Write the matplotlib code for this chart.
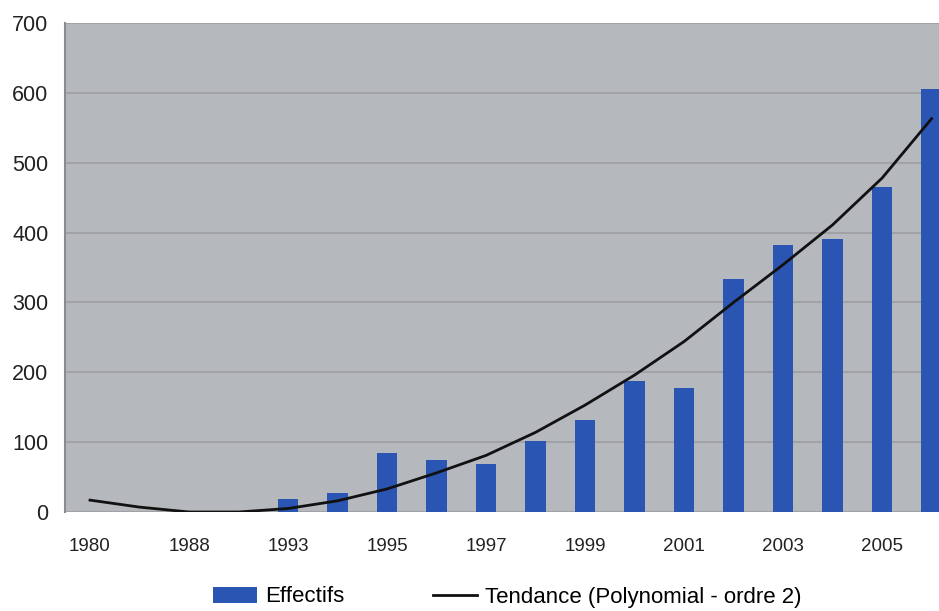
import numpy as np
import matplotlib
matplotlib.use("Agg")
import matplotlib.pyplot as plt

plt.rcParams['font.family'] = ['Liberation Sans', 'DejaVu Sans']

# categories (only every other one gets a label)
years = ['1980', '1985', '1988', '1990', '1993', '1994', '1995', '1996', '1997',
         '1998', '1999', '2000', '2001', '2002', '2003', '2004', '2005', '2006']
effectifs = [0, 0, 0, 0, 18, 27, 85, 74, 68, 102, 131, 187, 178, 333, 382, 391, 465, 606]
# polynomial trend (order 2)
tendance = [17, 7, 0, 0, 5, 16, 33, 56, 81, 114, 153, 196, 244, 300, 354, 411, 478, 563]

x = np.arange(len(years))

fig = plt.figure(figsize=(9.39, 6.11), dpi=100)
ax = fig.add_axes([65/939, 99/611, 874/939, 489/611])
ax.set_facecolor('#b5b8bd')

bars = ax.bar(x, effectifs, width=0.41, color='#2b55b2', label='Effectifs', zorder=2)
line, = ax.plot(x, tendance, color='#111111', lw=2, label='Tendance (Polynomial - ordre 2)', zorder=3)

ax.set_xlim(-0.505, 17.15)
ax.set_ylim(0, 700)
ax.set_yticks(range(0, 701, 100))
ax.yaxis.grid(True, color='#a0a2a6', lw=1.5, zorder=1)
ax.set_xticks(x[::2])
ax.set_xticklabels(years[::2], fontsize=13.5, color='#222222')
ax.tick_params(axis='x', length=0, pad=19)
ax.tick_params(axis='y', length=0, pad=12, labelsize=15.5, labelcolor='#222222')

for s in ['top', 'right', 'bottom']:
    ax.spines[s].set_visible(False)
ax.spines['left'].set_color('#8a8c90')
ax.spines['left'].set_linewidth(1.5)

fig.legend([bars, line], ['Effectifs', 'Tendance (Polynomial - ordre 2)'],
           loc='center', bbox_to_anchor=(0.54, 14/611), ncol=2, frameon=False,
           fontsize=16, handlelength=2.0, columnspacing=4.0, handletextpad=0.35)

plt.savefig('out.png')
plt.close()
